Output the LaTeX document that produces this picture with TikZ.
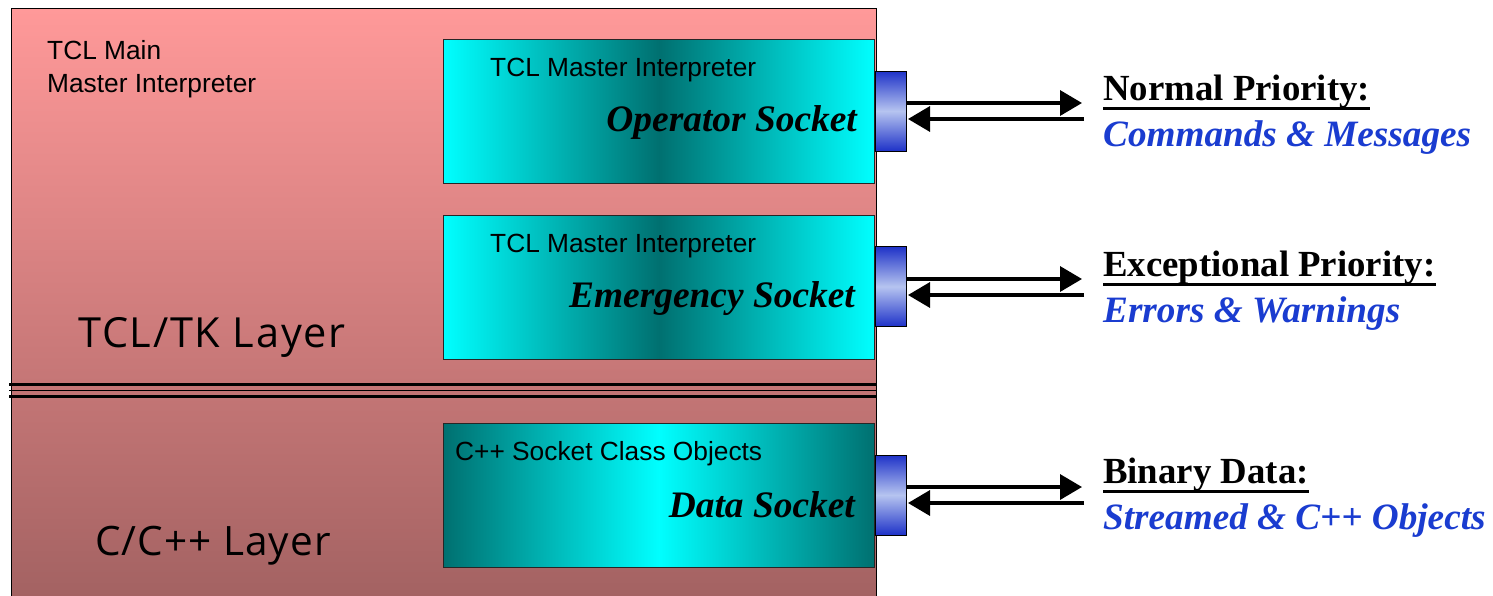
\documentclass[tikz,border=0pt]{standalone}
\usepackage{fontspec}
\setmainfont{Liberation Serif}
\setsansfont{Liberation Sans}
\newfontfamily\layerfontA[LetterSpace=4.2]{Open Sans}
\newfontfamily\layerfontB[LetterSpace=2.6]{Open Sans}
\usetikzlibrary{arrows.meta}
\definecolor{pinktop}{RGB}{255,153,153}
\definecolor{pinkbot}{RGB}{163,98,98}
\definecolor{cyanc}{RGB}{0,255,255}
\definecolor{tealc}{RGB}{0,112,112}
\definecolor{sockdark}{RGB}{30,50,200}
\definecolor{socklight}{RGB}{182,196,240}
\definecolor{labelblue}{RGB}{26,60,208}
\tikzset{
  layerbox/.style={draw=black, line width=1.3pt, anchor=north west, inner sep=0pt,
    minimum width=865pt, minimum height=590pt, top color=pinktop, bottom color=pinkbot},
  litebox/.style={draw=black!85, line width=1.3pt, anchor=north west, inner sep=0pt,
    minimum width=431pt, minimum height=144pt, left color=cyanc, right color=cyanc, middle color=tealc},
  darkbox/.style={draw=black!85, line width=1.3pt, anchor=north west, inner sep=0pt,
    minimum width=431pt, minimum height=144pt, left color=tealc, right color=tealc, middle color=cyanc},
  socket/.style={draw=black, line width=1pt, inner sep=0pt, minimum width=31pt, minimum height=80pt,
    top color=sockdark, bottom color=sockdark, middle color=socklight},
  arr/.style={line width=3.5pt, -{Triangle[length=22pt,width=25pt]}},
  smalltxt/.style={inner sep=0pt, anchor=base west, font=\sffamily\fontsize{26.3}{33}\selectfont},
  socktxt/.style={inner sep=0pt, anchor=base east, font=\bfseries\itshape\fontsize{37.4}{40}\selectfont},
  headtxt/.style={inner sep=0pt, anchor=base west, font=\bfseries\fontsize{36.8}{40}\selectfont},
  subtxt/.style={inner sep=0pt, anchor=base west, text=labelblue, font=\bfseries\itshape\fontsize{37.2}{40}\selectfont},
  layertxt/.style={inner sep=0pt, anchor=base west},
  uline/.style={line width=3pt}
}
\begin{document}
\begin{tikzpicture}[x=1pt,y=-1pt]
\useasboundingbox (0,0) rectangle (1493,595);
\fill[white] (0,0) rectangle (1493,595);
% outer layered block
\node[layerbox] (main) at (10.5,8) {};
% separator
\draw[line width=3.4pt] (9,384.5) -- (876,384.5);
\draw[line width=1.6pt] (9,390.5) -- (876,390.5);
\draw[line width=3.4pt] (9,396.5) -- (876,396.5);
% inner boxes
\node[litebox] (op) at (443,39) {};
\node[litebox] (em) at (443,215) {};
\node[darkbox] (da) at (443,423) {};
% sockets
\node[socket] (s1) at (891,111) {};
\node[socket] (s2) at (891,286.5) {};
\node[socket] (s3) at (891,495) {};
% texts in the layers
\node[smalltxt, align=left] (mainlbl) at (47,92) {TCL Main\\Master Interpreter};
\node[layertxt, font=\layerfontA\fontsize{41.5}{45}\selectfont] (tcllayer) at (78,347) {TCL/TK Layer};
\node[layertxt, font=\layerfontB\fontsize{40.5}{45}\selectfont] (clayer) at (95,555) {C/C++ Layer};
\node[smalltxt] (op1) at (490,76) {TCL Master Interpreter};
\node[socktxt] (op2) at (857,131) {Operator Socket};
\node[smalltxt] (em1) at (490,252) {TCL Master Interpreter};
\node[socktxt] (em2) at (855,307) {Emergency Socket};
\node[smalltxt] (da1) at (455,460) {C++ Socket Class Objects};
\node[socktxt] (da2) at (855,517) {Data Socket};
% right labels
\node[headtxt] (h1) at (1103,100) {Normal Priority:};
\node[subtxt] (t1) at (1103,146) {Commands \& Messages};
\node[headtxt] (h2) at (1103,276) {Exceptional Priority:};
\node[subtxt] (t2) at (1103,322) {Errors \& Warnings};
\node[headtxt] (h3) at (1103,483) {Binary Data:};
\node[subtxt] (t3) at (1103,529) {Streamed \& C++ Objects};
\foreach \h in {h1,h2,h3}
  \draw[uline] ([yshift=-8pt]\h.base west) -- ([yshift=-8pt]\h.base east);
% arrow end points
\coordinate (r1) at (1082,103);
\coordinate (l1) at (1084,119);
\coordinate (r2) at (1082,279);
\coordinate (l2) at (1084,295);
\coordinate (r3) at (1082,487);
\coordinate (l3) at (1084,503);
\draw[arr] (s1.east |- r1) -- (r1);
\draw[arr] (l1) -- ([xshift=1pt]s1.east |- l1);
\draw[arr] (s2.east |- r2) -- (r2);
\draw[arr] (l2) -- ([xshift=1pt]s2.east |- l2);
\draw[arr] (s3.east |- r3) -- (r3);
\draw[arr] (l3) -- ([xshift=1pt]s3.east |- l3);
\end{tikzpicture}
\end{document}
